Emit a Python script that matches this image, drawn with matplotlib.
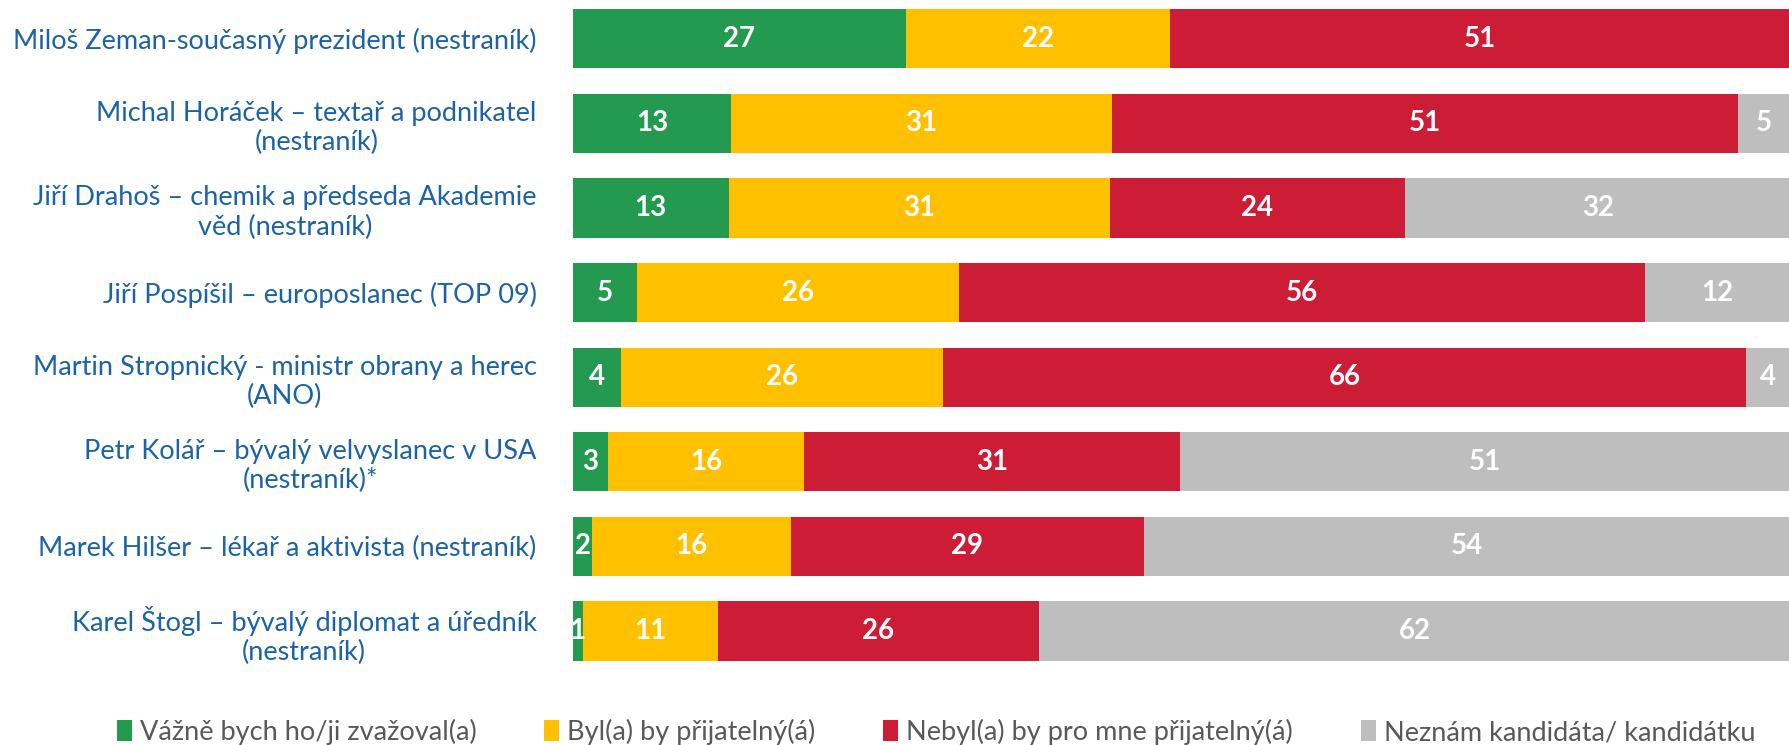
import matplotlib.pyplot as plt
import numpy as np
from matplotlib.patches import Patch

plt.rcParams['font.family'] = ['Lato', 'DejaVu Sans']

# candidates, top to bottom
candidates = [
    "Miloš Zeman-současný prezident (nestraník)",
    "Michal Horáček – textař a podnikatel\n(nestraník)",
    "Jiří Drahoš – chemik a předseda Akademie\nvěd (nestraník)",
    "Jiří Pospíšil – europoslanec (TOP 09)",
    "Martin Stropnický - ministr obrany a herec\n(ANO)",
    "Petr Kolář – bývalý velvyslanec v USA\n(nestraník)*",
    "Marek Hilšer – lékař a aktivista (nestraník)",
    "Karel Štogl – bývalý diplomat a úředník\n(nestraník)",
]

# answers in percent (labels are rounded)
vazne = [27.4, 13.0, 12.8, 5.3, 4.0, 2.9, 1.6, 0.8]
prijatelny = [21.7, 31.3, 31.3, 26.4, 26.4, 16.1, 16.3, 11.1]
neprijatelny = [50.9, 51.4, 24.3, 56.4, 66.0, 30.9, 29.0, 26.4]
neznam = [0, 5, 31.6, 12, 4, 51, 54, 62]

series_names = [
    "Vážně bych ho/ji zvažoval(a)",
    "Byl(a) by přijatelný(á)",
    "Nebyl(a) by pro mne přijatelný(á)",
    "Neznám kandidáta/ kandidátku",
]
colors = ["#239A4F", "#FFC000", "#CD1C35", "#BEBEBE"]
label_color = "#1B62A6"

fig = plt.figure(figsize=(17.9, 7.45), dpi=100)
ax = fig.add_axes([0.32, 0.0962, 0.68, 0.9085])

y = np.arange(len(candidates))
left = np.zeros(len(candidates))
for vals, color in zip([vazne, prijatelny, neprijatelny, neznam], colors):
    vals = np.array(vals, dtype=float)
    ax.barh(y, vals, left=left, height=0.7, color=color, edgecolor="none")
    for yi, l, v in zip(y, left, vals):
        if v <= 0:
            continue
        # centre of the visible part of the segment
        cx = (l + min(l + v, 100)) / 2
        ax.text(cx, yi, f"{round(v)}", ha="center", va="center",
                color="white", fontsize=20, fontweight="bold", clip_on=True)
    left += vals

ax.set_xlim(0, 100)
ax.set_ylim(len(candidates) - 0.5, -0.5)
ax.set_yticks(y)
ax.set_yticklabels(candidates, fontsize=19.5, color=label_color)
for lab in ax.get_yticklabels():
    lab.set_multialignment("center")
ax.tick_params(axis="y", length=0, pad=26)
ax.set_xticks([])
for s in ax.spines.values():
    s.set_visible(False)

handles = [Patch(facecolor=c, edgecolor="none") for c in colors]
fig.legend(handles, series_names, loc="lower center", bbox_to_anchor=(0.523, -0.033),
           ncol=4, frameon=False, fontsize=19.5, handlelength=0.55, handleheight=0.8,
           handletextpad=0.3, columnspacing=2.5, labelcolor="#595959")

fig.savefig("out.png", dpi=100)
